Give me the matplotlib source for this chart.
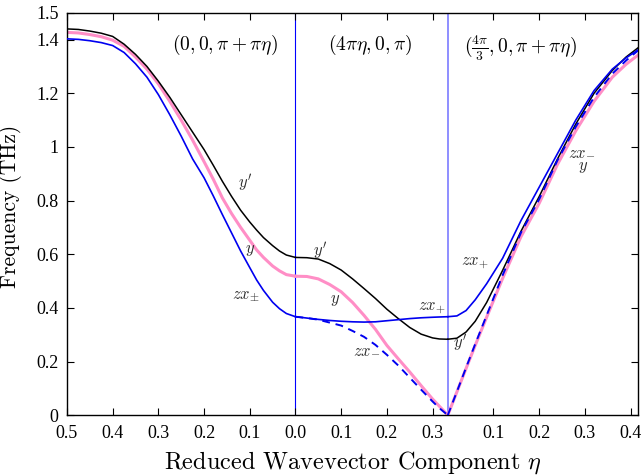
import matplotlib
matplotlib.use('Agg')
import matplotlib.pyplot as plt
import numpy as np

plt.rcParams['mathtext.fontset'] = 'cm'
plt.rcParams['font.family'] = 'serif'
plt.rcParams['font.serif'] = ['Liberation Serif', 'DejaVu Serif']

# ── data ──────────────────────────────────────────────────────────────────
# segment 1: (0,0,pi+pi*eta), eta runs 0.5 -> 0
eta1 = [0.5, 0.475, 0.45, 0.425, 0.4, 0.375, 0.35, 0.325, 0.3, 0.275, 0.25, 0.225,
        0.2, 0.18, 0.16, 0.14, 0.12, 0.1, 0.085, 0.07, 0.05, 0.035, 0.02, 0.0]
yp1 = [1.440, 1.438, 1.432, 1.424, 1.412, 1.383, 1.345, 1.300, 1.245, 1.185, 1.120, 1.055,
       0.990, 0.932, 0.872, 0.816, 0.764, 0.720, 0.690, 0.662, 0.632, 0.612, 0.597, 0.588]
y1 = [1.427, 1.425, 1.419, 1.411, 1.398, 1.375, 1.335, 1.290, 1.235, 1.170, 1.100, 1.025,
      0.945, 0.880, 0.810, 0.752, 0.700, 0.652, 0.616, 0.588, 0.556, 0.538, 0.524, 0.518]
zx1 = [1.403, 1.401, 1.396, 1.389, 1.378, 1.352, 1.310, 1.260, 1.195, 1.120, 1.040, 0.955,
       0.885, 0.818, 0.748, 0.680, 0.612, 0.550, 0.504, 0.465, 0.421, 0.397, 0.379, 0.367]

# segment 2: (4*pi*eta,0,pi), eta runs 0 -> 1/3
eta2 = [0.0, 0.025, 0.05, 0.075, 0.1, 0.125, 0.15, 0.175, 0.2, 0.225, 0.25, 0.275, 0.3, 0.315, 1/3]
yp2 = [0.588, 0.587, 0.582, 0.565, 0.541, 0.508, 0.472, 0.435, 0.395, 0.36, 0.327, 0.302, 0.288, 0.284, 0.283]
y2 = [0.518, 0.517, 0.508, 0.487, 0.46, 0.42, 0.372, 0.32, 0.26, 0.21, 0.161, 0.11, 0.06, 0.033, 0.0]
zxp2 = [0.367, 0.362, 0.357, 0.353, 0.35, 0.348, 0.347, 0.348, 0.352, 0.356, 0.36, 0.363, 0.365, 0.366, 0.367]
zxm2 = [0.367, 0.362, 0.356, 0.345, 0.334, 0.314, 0.292, 0.262, 0.225, 0.185, 0.14, 0.095, 0.051, 0.026, 0.0]

# segment 3: (4pi/3,0,pi+pi*eta), eta runs 0 -> 5/12
eta3 = [0.0, 0.02, 0.04, 0.06, 0.085, 0.12, 0.16, 0.2, 0.24, 0.28, 0.32, 0.36, 0.39, 5/12]
yp3 = [0.283, 0.287, 0.31, 0.35, 0.42, 0.54, 0.685, 0.815, 0.955, 1.085, 1.20, 1.285, 1.335, 1.37]
y3 = [0.0, 0.087, 0.174, 0.26, 0.365, 0.51, 0.665, 0.79, 0.935, 1.06, 1.17, 1.26, 1.308, 1.343]
zxp3 = [0.367, 0.370, 0.39, 0.43, 0.49, 0.585, 0.725, 0.85, 0.975, 1.10, 1.21, 1.29, 1.332, 1.362]
zxm3 = [0.0, 0.088, 0.177, 0.265, 0.372, 0.522, 0.68, 0.805, 0.95, 1.075, 1.185, 1.273, 1.322, 1.36]

seg1_ticks = [0.5, 0.4, 0.3, 0.2, 0.1, 0.0]
seg2_ticks = [0.1, 0.2, 0.3]
seg3_ticks = [0.1, 0.2, 0.3, 0.4]
yticks = [0, 0.2, 0.4, 0.6, 0.8, 1.0, 1.2, 1.4, 1.5]
ytick_labels = ['0', '0.2', '0.4', '0.6', '0.8', '1', '1.2', '1.4', '1.5']

# ── map each segment onto one continuous axis ───────────────────────────
off2 = 0.5
off3 = 0.5 + 1/3
x1 = off2 - np.array(eta1)
x2 = off2 + np.array(eta2)
x3 = off3 + np.array(eta3)

PINK = '#ff8ec6'
BLUE = '#0000f0'

fig = plt.figure(figsize=(6.44, 4.75), dpi=100)
ax = fig.add_axes([0.104, 0.126, 0.887, 0.847])

for xs, ys in [(x1, y1), (x2, y2), (x3, y3)]:
    ax.plot(xs, ys, color=PINK, lw=2.2, zorder=2)
for xs, ys in [(x1, yp1), (x2, yp2), (x3, yp3)]:
    ax.plot(xs, ys, color='black', lw=1.1, zorder=3)
for xs, ys in [(x1, zx1), (x2, zxp2), (x3, zxp3)]:
    ax.plot(xs, ys, color=BLUE, lw=1.2, zorder=3)
for xs, ys in [(x2, zxm2), (x3, zxm3)]:
    ax.plot(xs, ys, color=BLUE, lw=1.4, ls=(0, (4, 3)), zorder=4)

ax.axvline(off2, color='#0000ff', lw=0.8, zorder=1)
ax.axvline(off3, color='#7c7cff', lw=1.2, zorder=1)

ax.set_xlim(0, off3 + 5/12)
ax.set_ylim(0, 1.5)

xt = [off2 - e for e in seg1_ticks] + [off2 + e for e in seg2_ticks] + [off3 + e for e in seg3_ticks]
xl = [f'{e:.1f}' for e in seg1_ticks + seg2_ticks + seg3_ticks]
ax.set_xticks(xt)
ax.set_xticklabels(xl)
ax.set_yticks(yticks)
ax.set_yticklabels(ytick_labels)
ax.tick_params(direction='in', top=True, right=True, length=5, width=0.8,
               labelsize=13, pad=6)
ax.tick_params(axis='x', pad=7)
for s in ax.spines.values():
    s.set_linewidth(1.0)

ax.set_xlabel(r'Reduced Wavevector Component $\eta$', family='cmr10', fontsize=17.5, labelpad=5)
ax.set_ylabel('Frequency (THz)', family='cmr10', fontsize=15.5, labelpad=2)
ax.yaxis.set_label_coords(-0.078, 0.52)

# segment headers
ax.text(0.346, 1.38, r'$(0,0,\pi+\pi\eta)$', fontsize=14, ha='center', va='center')
ax.text(0.663, 1.38, r'$(4\pi\eta,0,\pi)$', fontsize=14, ha='center', va='center')
ax.text(0.992, 1.37, r'$(\frac{4\pi}{3},0,\pi+\pi\eta)$', fontsize=14, ha='center', va='center')

# branch labels
lab = dict(fontsize=12, color='#303030', ha='center', va='center')
ax.text(0.39, 0.866, r"$y'$", **lab)
ax.text(0.40, 0.616, r'$y$', **lab)
ax.text(0.392, 0.446, r'$zx_{\pm}$', **lab)
ax.text(0.554, 0.61, r"$y'$", **lab)
ax.text(0.587, 0.43, r'$y$', **lab)
ax.text(0.656, 0.243, r'$zx_{-}$', **lab)
ax.text(0.798, 0.398, r'$zx_{+}$', **lab)
ax.text(0.86, 0.267, r"$y'$", **lab)
ax.text(0.893, 0.566, r'$zx_{+}$', **lab)
ax.text(1.127, 0.982, r'$zx_{-}$', **lab)
ax.text(1.13, 0.926, r'$y$', **lab)

fig.savefig('out.png', dpi=100)
